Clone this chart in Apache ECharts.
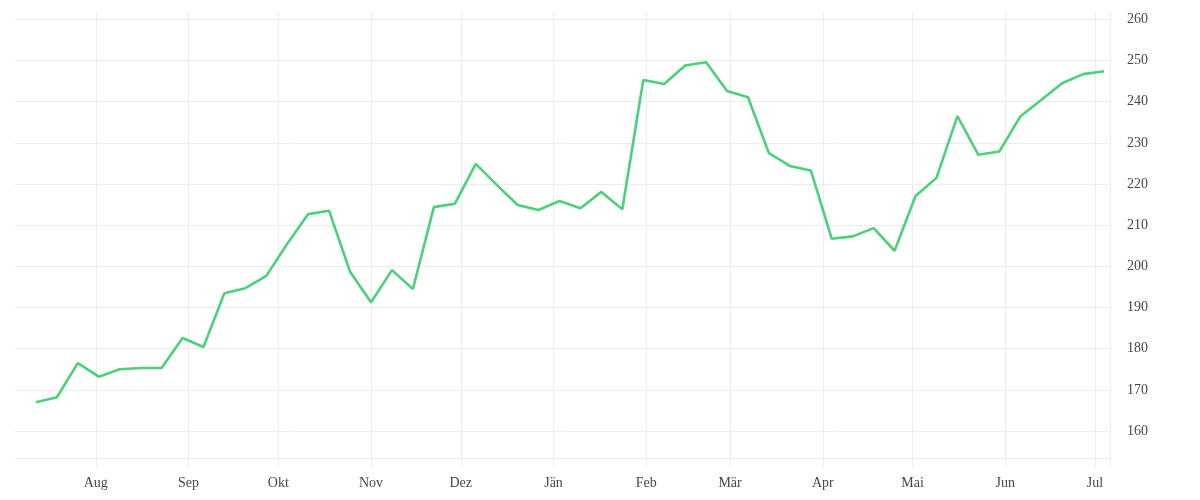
<!DOCTYPE html>
<html>
<head>
<meta charset="utf-8">
<script src="https://cdn.jsdelivr.net/npm/echarts@6/dist/echarts.min.js"></script>
<style>
  html, body { margin: 0; padding: 0; background: #ffffff; }
  #chart { width: 1200px; height: 500px; }
</style>
</head>
<body>
<div id="chart"></div>
<script>
const dates = [
  '2022-07-12','2022-07-19','2022-07-26','2022-08-02','2022-08-09','2022-08-16','2022-08-23','2022-08-30',
  '2022-09-06','2022-09-13','2022-09-20','2022-09-27','2022-10-04','2022-10-11','2022-10-18','2022-10-25',
  '2022-11-01','2022-11-08','2022-11-15','2022-11-22','2022-11-29','2022-12-06','2022-12-13','2022-12-20',
  '2022-12-27','2023-01-03','2023-01-10','2023-01-17','2023-01-24','2023-01-31','2023-02-07','2023-02-14',
  '2023-02-21','2023-02-28','2023-03-07','2023-03-14','2023-03-21','2023-03-28','2023-04-04','2023-04-11',
  '2023-04-18','2023-04-25','2023-05-02','2023-05-09','2023-05-16','2023-05-23','2023-05-30','2023-06-06',
  '2023-06-13','2023-06-20','2023-06-27','2023-07-04'
];
const values = [
  167.0, 168.2, 176.5, 173.2, 175.0, 175.3, 175.3, 182.6,
  180.4, 193.5, 194.7, 197.7, 205.5, 212.7, 213.5, 198.7,
  191.3, 199.1, 194.5, 214.4, 215.2, 224.9, 219.8, 214.9,
  213.7, 215.9, 214.1, 218.1, 213.9, 245.3, 244.3, 248.8,
  249.6, 242.6, 241.1, 227.5, 224.4, 223.3, 206.7, 207.3,
  209.3, 203.8, 217.1, 221.5, 236.5, 227.1, 227.9, 236.4,
  240.4, 244.5, 246.7, 247.4
];
const monthTicks = [
  '2022-08-01','2022-09-01','2022-10-01','2022-11-01','2022-12-01','2023-01-01',
  '2023-02-01','2023-03-01','2023-04-01','2023-05-01','2023-06-01','2023-07-01'
];
const monthNames = ['Jän','Feb','Mär','Apr','Mai','Jun','Jul','Aug','Sep','Okt','Nov','Dez'];
const xStart = '2022-07-05';
const xEnd = '2023-07-06';
const yTicks = [160, 170, 180, 190, 200, 210, 220, 230, 240, 250, 260];
const yMin = 153.45;
const yMax = 261.8;

const gridColor = '#ececec';
const textColor = '#474747';
const fontFamily = '"Liberation Serif", "DejaVu Serif", serif';

const ts = (s) => Date.parse(s + 'T12:00:00Z');
const monthTickTs = monthTicks.map(ts);

const chart = echarts.init(document.getElementById('chart'), null, { renderer: 'canvas' });
chart.setOption({
  animation: false,
  backgroundColor: '#ffffff',
  grid: { left: 15, right: 90, top: 12, bottom: 42, containLabel: false },
  xAxis: {
    type: 'value',
    min: ts(xStart),
    max: ts(xEnd),
    axisLine: { show: true, lineStyle: { color: gridColor, width: 1 } },
    axisTick: {
      show: true, length: 9, lineStyle: { color: gridColor, width: 1 },
      customValues: monthTickTs.concat([ts(xEnd)])
    },
    splitLine: { show: true, lineStyle: { color: gridColor, width: 1 } },
    axisLabel: {
      customValues: monthTickTs,
      margin: 18,
      color: textColor,
      fontFamily: fontFamily,
      fontSize: 14,
      formatter: function (v) { return monthNames[new Date(v).getUTCMonth()]; }
    }
  },
  yAxis: {
    type: 'value',
    position: 'right',
    min: yMin,
    max: yMax,
    axisLine: { show: false },
    axisTick: { show: false, customValues: yTicks },
    splitLine: { show: true, lineStyle: { color: gridColor, width: 1 } },
    axisLabel: {
      customValues: yTicks,
      margin: 17,
      padding: [4, 0, 0, 0],
      color: textColor,
      fontFamily: fontFamily,
      fontSize: 14
    }
  },
  series: [{
    type: 'line',
    data: dates.map((d, i) => [ts(d), values[i]]),
    showSymbol: false,
    symbol: 'none',
    lineStyle: { color: '#4cd17a', width: 2.6 },
    itemStyle: { color: '#4cd17a' }
  }]
});
</script>
</body>
</html>
